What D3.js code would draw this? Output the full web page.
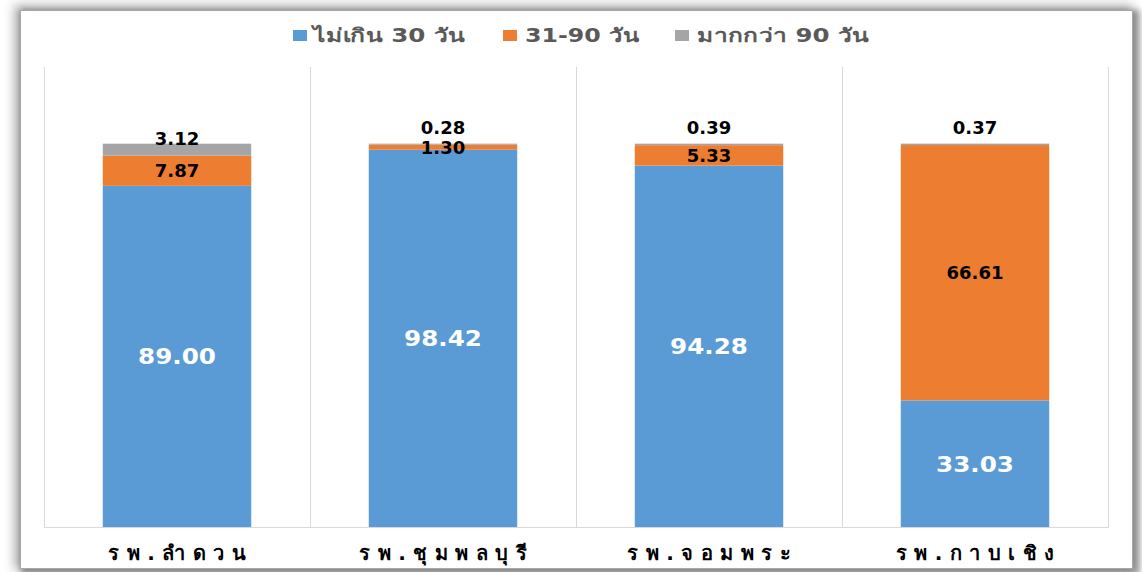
<!DOCTYPE html>
<html><head><meta charset="utf-8">
<script src="https://cdn.jsdelivr.net/npm/d3@7"></script>
<style>
html,body{margin:0;padding:0;background:#fff;width:1142px;height:572px;overflow:hidden;}
#frame{position:absolute;left:20px;top:10px;width:1111px;height:557px;background:#fff;border:1px solid #a8a8a8;
box-shadow:-3px -2px 10px 3px rgba(0,0,0,0.30), 4px 3px 6px 3px rgba(0,0,0,0.35);}
svg{position:absolute;left:0;top:0;}
text{font-family:Tahoma,"DejaVu Sans","Noto Sans",sans-serif;font-weight:bold;}
</style></head>
<body><div id="frame"></div><svg id="chart" width="1142" height="572"></svg>
<script>
const categories = ["รพ.ลำดวน","รพ.ชุมพลบุรี","รพ.จอมพระ","รพ.กาบเชิง"];
const seriesNames = ["ไม่เกิน 30 วัน","31-90 วัน","มากกว่า 90 วัน"];
const within30 = [89.00, 98.42, 94.28, 33.03];
const d31to90 = [7.87, 1.30, 5.33, 66.61];
const over90 = [3.12, 0.28, 0.39, 0.37];
const colors = ["#5B9BD5","#ED7D31","#A5A5A5"];

(function(){
const svg = d3.select("#chart");
const pL = 44, pR = 1108, pT = 67, pB = 527;
const x = d3.scaleBand().domain(categories).range([pL, pR]).paddingInner(0).paddingOuter(0);
const y = d3.scaleLinear().domain([0, 120]).range([pB, pT]);
const barW = x.bandwidth() * 0.558;

const rows = categories.map((c,i)=>({cat:c, s0:within30[i], s1:d31to90[i], s2:over90[i]}));
const stack = d3.stack().keys(["s0","s1","s2"])(rows);

// category separator grid lines
const gx = categories.map(c=>x(c)).concat([pR]);
svg.append("g").selectAll("line").data(gx).join("line")
  .attr("x1",d=>d+0.5).attr("x2",d=>d+0.5).attr("y1",pT).attr("y2",pB)
  .attr("stroke","#d9d9d9").attr("stroke-width",1);

// bars
svg.append("g").selectAll("g").data(stack).join("g")
  .attr("fill",(d,i)=>colors[i])
  .selectAll("rect").data(d=>d).join("rect")
  .attr("x",d=>x(d.data.cat)+(x.bandwidth()-barW)/2)
  .attr("width",barW)
  .attr("y",d=>y(d[1]))
  .attr("height",d=>y(d[0])-y(d[1]));

// axis line
svg.append("line").attr("x1",pL).attr("x2",pR+1).attr("y1",pB+0.5).attr("y2",pB+0.5)
  .attr("stroke","#d9d9d9");

// category labels
const ls = 7.5;
const xAxis = d3.axisBottom(x).tickSize(0).tickPadding(0);
const ax = svg.append("g").attr("transform",`translate(0,${pB})`).call(xAxis);
ax.select(".domain").remove();
ax.selectAll("text").attr("dy",null).attr("y",33).attr("dx",ls/2)
  .attr("font-size","20px").attr("fill","#000").attr("letter-spacing",ls+"px")
  .attr("font-family",'Tahoma,"DejaVu Sans","Noto Sans",sans-serif').attr("font-weight","bold");

// data labels
stack.forEach((layer,si)=>{
  svg.append("g").selectAll("text").data(layer).join("text")
    .attr("transform",d=>{
      const v=d[1]-d[0];
      const cx=x(d.data.cat)+x.bandwidth()/2;
      let cy;
      if(si===2){ cy = v<1 ? y(d[1])-16 : (y(d[0])+y(d[1]))/2-11; }
      else cy=(y(d[0])+y(d[1]))/2;
      return `translate(${cx},${cy})` + (si===0?" scale(1.12,1)":"");
    })
    .attr("dy","0.36em")
    .attr("text-anchor","middle")
    .attr("font-size",si===0?"22px":"18px")
    .attr("fill",si===0?"#fff":"#000")
    .text(d=>(d[1]-d[0]).toFixed(2));
});

// legend
const lg = svg.append("g");
const sqX = [293, 503, 675];
const txX = [313, 525, 697];
const txW = [152, 114, 172];
seriesNames.forEach((n,i)=>{
  lg.append("rect").attr("x",sqX[i]).attr("y",30).attr("width",14).attr("height",11).attr("fill",colors[i]);
  lg.append("text").attr("x",txX[i]).attr("y",35.5).attr("dy","0.36em")
    .attr("textLength",txW[i]).attr("lengthAdjust","spacingAndGlyphs")
    .attr("font-size","19px").attr("fill","#595959").text(n);
});
})();
</script>
</body></html>
